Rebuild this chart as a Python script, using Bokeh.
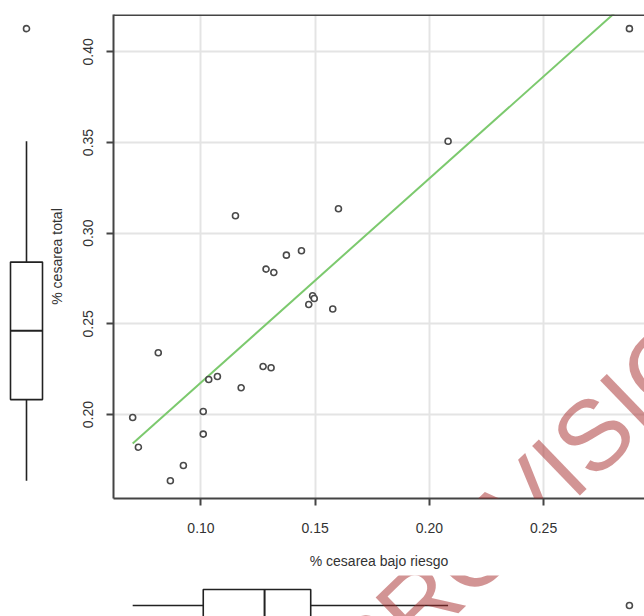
import numpy as np
from bokeh.plotting import figure
from bokeh.models import Range1d, FixedTicker, Span, Label, Spacer
from bokeh.layouts import column, row
from bokeh.embed import file_html
from bokeh.resources import INLINE

# ---------------- data ----------------
cesarea_bajo_riesgo = [0.2876, 0.2082, 0.1602, 0.1151, 0.1440, 0.1374, 0.1285, 0.1319,
                       0.1489, 0.1496, 0.1472, 0.1577, 0.0813, 0.1272, 0.1307, 0.1034,
                       0.1072, 0.1176, 0.1010, 0.0701, 0.1010, 0.0726, 0.0923, 0.0866]
cesarea_total = [0.4128, 0.3507, 0.3135, 0.3096, 0.2903, 0.2879, 0.2802, 0.2783,
                 0.2655, 0.2640, 0.2607, 0.2582, 0.2341, 0.2265, 0.2258, 0.2193,
                 0.2210, 0.2148, 0.2017, 0.1984, 0.1892, 0.1820, 0.1719, 0.1635]
x_ticks = [0.10, 0.15, 0.20, 0.25]
x_tick_labels = ["0.10", "0.15", "0.20", "0.25"]
y_ticks = [0.20, 0.25, 0.30, 0.35, 0.40]
y_tick_labels = ["0.20", "0.25", "0.30", "0.35", "0.40"]
x_title = "% cesarea bajo riesgo"
y_title = "% cesarea total"
watermark = "PROVISIONAL"

x = np.array(cesarea_bajo_riesgo)
y = np.array(cesarea_total)

# ---------------- helpers ----------------
def fivenum(v):
    v = np.sort(np.asarray(v)); n = len(v)
    n4 = np.floor((n + 3) / 2) / 2
    d = [1, n4, (n + 1) / 2, n + 1 - n4, n]
    return [0.5 * (v[int(np.floor(i)) - 1] + v[int(np.ceil(i)) - 1]) for i in d]

def box_stats(v):
    v = np.asarray(v)
    _, lo, med, hi, _ = fivenum(v)
    iqr = hi - lo
    inside = v[(v >= lo - 1.5 * iqr) & (v <= hi + 1.5 * iqr)]
    wlo, whi = inside.min(), inside.max()
    out = v[(v < wlo) | (v > whi)]
    return lo, med, hi, wlo, whi, out

FONT = "Liberation Sans"
TXT = "#333333"
PT_COLOR = "#4a4a4a"
BOX_COLOR = "#222222"
X0, X1 = 0.0617, 0.2942
Y0, Y1 = 0.1537, 0.4206
TOP_H = 575          # height of the upper row
FRAME_TOP, FRAME_BOTTOM = 14, 498
LEFT_W = 45
MAIN_W = 599
AXIS_W = 68
BOT_H = 41

# ---------------- main scatter ----------------
p = figure(width=MAIN_W, height=TOP_H, x_range=Range1d(X0, X1), y_range=Range1d(Y0, Y1),
           output_backend="svg", toolbar_location=None,
           min_border_left=AXIS_W, min_border_right=0, min_border_top=FRAME_TOP,
           min_border_bottom=TOP_H - FRAME_BOTTOM)
p.outline_line_color = None
p.background_fill_color = "white"
p.border_fill_color = "white"

p.xaxis.ticker = FixedTicker(ticks=x_ticks)
p.yaxis.ticker = FixedTicker(ticks=y_ticks)
p.xaxis.major_label_overrides = dict(zip(x_ticks, x_tick_labels))
p.yaxis.major_label_overrides = dict(zip(y_ticks, y_tick_labels))
p.xaxis.axis_label = x_title
p.yaxis.axis_label = y_title
p.yaxis.major_label_orientation = "vertical"
for ax in (p.xaxis, p.yaxis):
    ax.axis_line_color = "#444444"
    ax.axis_line_width = 2
    ax.major_tick_line_color = "#444444"
    ax.major_tick_line_width = 2
    ax.major_tick_out = 7
    ax.major_tick_in = 0
    ax.minor_tick_line_color = None
    ax.major_label_text_font = FONT
    ax.major_label_text_font_size = "14px"
    ax.major_label_text_color = TXT
    ax.axis_label_text_font = FONT
    ax.axis_label_text_font_size = "14px"
    ax.axis_label_text_font_style = "normal"
    ax.axis_label_text_color = TXT
p.xaxis.major_label_standoff = 17
p.xaxis.axis_label_standoff = 17
p.yaxis.major_label_standoff = 13
p.yaxis.axis_label_standoff = 16

p.xgrid.ticker = FixedTicker(ticks=x_ticks)
p.ygrid.ticker = FixedTicker(ticks=y_ticks)
p.grid.grid_line_color = "#e4e4e4"
p.grid.grid_line_width = 2

p.add_layout(Span(location=Y1, dimension="width", line_color="#444444", line_width=3))

# regression line (least squares)
b, a = np.polyfit(x, y, 1)
xl = np.array([x.min(), x.max()])
p.line(xl, a + b * xl, line_color="#7cc96e", line_width=2)

p.scatter(x, y, marker="circle", size=6, fill_color="white", line_color=PT_COLOR, line_width=1.6)

# watermark (annotation)
WM_X, WM_Y = 0.2699, 0.1869
WM_ANGLE = np.deg2rad(44)
wm_style = dict(text=watermark, angle=WM_ANGLE, text_align="center", text_baseline="middle",
                text_font=FONT, text_font_size="100px", text_color="#a52a2a", text_alpha=0.5)
p.add_layout(Label(x=WM_X, y=WM_Y, **wm_style))

# ---------------- left boxplot (y) ----------------
left = figure(width=LEFT_W, height=TOP_H, x_range=Range1d(-26, 19), y_range=p.y_range,
              output_backend="svg", toolbar_location=None,
              x_axis_location=None, y_axis_location=None,
              min_border_left=0, min_border_right=0, min_border_top=FRAME_TOP,
              min_border_bottom=TOP_H - FRAME_BOTTOM)
left.outline_line_color = None
left.grid.visible = False
lo, med, hi, wlo, whi, out = box_stats(y)
left.segment(x0=[0, 0], y0=[hi, lo], x1=[0, 0], y1=[whi, wlo], line_color=BOX_COLOR, line_width=1.6)
left.quad(left=[-16], right=[16], bottom=[lo], top=[hi], fill_color="white",
          line_color=BOX_COLOR, line_width=1.6)
left.segment(x0=[-16], y0=[med], x1=[16], y1=[med], line_color=BOX_COLOR, line_width=2)
left.scatter(np.zeros(len(out)), out, marker="circle", size=6, fill_color="white",
             line_color=PT_COLOR, line_width=1.6)

# ---------------- bottom boxplot (x) ----------------
bot = figure(width=MAIN_W, height=BOT_H, x_range=p.x_range, y_range=Range1d(-11, 30),
             output_backend="svg", toolbar_location=None,
             x_axis_location=None, y_axis_location=None,
             min_border_left=AXIS_W, min_border_right=0, min_border_top=0, min_border_bottom=0)
bot.outline_line_color = None
bot.grid.visible = False
lo, med, hi, wlo, whi, out = box_stats(x)
bot.segment(x0=[hi, lo], y0=[0, 0], x1=[whi, wlo], y1=[0, 0], line_color=BOX_COLOR, line_width=1.6)
bot.quad(left=[lo], right=[hi], bottom=[-16], top=[16], fill_color="white",
         line_color=BOX_COLOR, line_width=1.6)
bot.segment(x0=[med], y0=[-16], x1=[med], y1=[16], line_color=BOX_COLOR, line_width=2)
bot.scatter(out, np.zeros(len(out)), marker="circle", size=6, fill_color="white",
            line_color=PT_COLOR, line_width=1.6)

# watermark continuation in the bottom panel (pixel units relative to box centre)
FRAME_H = FRAME_BOTTOM - FRAME_TOP
wm_page_y = FRAME_TOP + (Y1 - WM_Y) / (Y1 - Y0) * FRAME_H
box_centre_y = TOP_H + 30
bot.add_layout(Label(x=WM_X, y=box_centre_y - wm_page_y, **wm_style))

layout = column(row(left, p), row(Spacer(width=LEFT_W, height=BOT_H), bot))
open("out.html", "w").write(file_html(layout, INLINE))
